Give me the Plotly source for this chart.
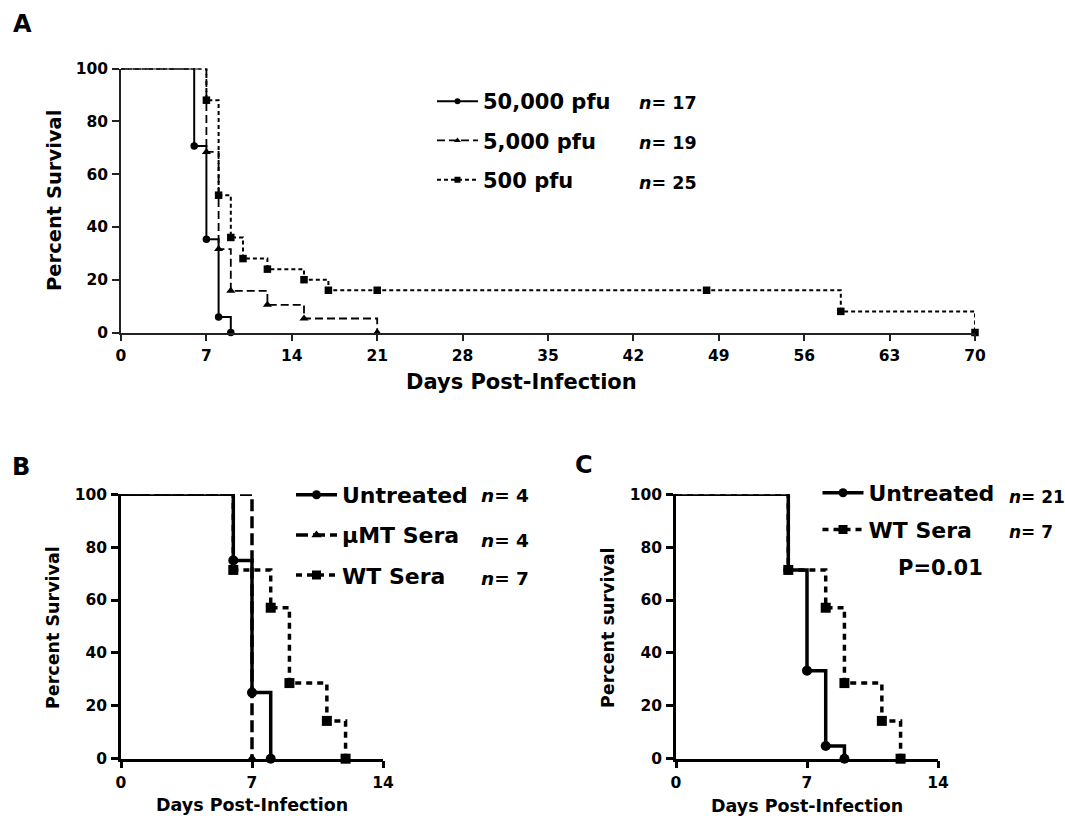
import plotly.graph_objects as go

W, H = 1065, 822
FONT = "DejaVu Sans"

# ---------------- Panel A data ----------------
a_days_50000 = [0, 6, 7, 8, 9]
a_surv_50000 = [100, 70.6, 35.3, 5.9, 0]
a_days_5000 = [0, 7, 8, 9, 12, 15, 21]
a_surv_5000 = [100, 68.4, 31.6, 15.8, 10.5, 5.3, 0]
a_days_500 = [0, 7, 8, 9, 10, 12, 15, 17, 21, 48, 59, 70]
a_surv_500 = [100, 88, 52, 36, 28, 24, 20, 16, 16, 16, 8, 0]
a_names = ["50,000 pfu", "5,000 pfu", "500 pfu"]
a_n = [17, 19, 25]
a_xticks = [0, 7, 14, 21, 28, 35, 42, 49, 56, 63, 70]

# ---------------- Panel B data ----------------
b_days_untreated = [0, 6, 7, 8]
b_surv_untreated = [100, 75, 25, 0]
b_days_mmt = [0, 7]
b_surv_mmt = [100, 0]
b_days_wt = [0, 6, 8, 9, 11, 12]
b_surv_wt = [100, 71.4, 57.1, 28.6, 14.3, 0]
b_names = ["Untreated", "μMT Sera", "WT Sera"]
b_n = [4, 4, 7]

# ---------------- Panel C data ----------------
c_days_untreated = [0, 6, 7, 8, 9]
c_surv_untreated = [100, 71.4, 33.3, 4.8, 0]
c_days_wt = [0, 6, 8, 9, 11, 12]
c_surv_wt = [100, 71.4, 57.1, 28.6, 14.3, 0]
c_names = ["Untreated", "WT Sera"]
c_n = [21, 7]
c_pvalue = "P=0.01"

bc_xticks = [0, 7, 14]
y_ticks = [0, 20, 40, 60, 80, 100]

fig = go.Figure()


def add_series(ax, days, surv, name, dash, width, symbol, msize, lsize, legend):
    xa, ya = ("x", "y") if ax == 1 else ("x%d" % ax, "y%d" % ax)
    line = dict(shape="hv", dash=dash, width=width, color="black")
    fig.add_trace(go.Scatter(x=days, y=surv, mode="lines", line=line,
                             xaxis=xa, yaxis=ya, showlegend=False,
                             cliponaxis=False, hoverinfo="skip"))
    fig.add_trace(go.Scatter(x=days[1:], y=surv[1:], mode="markers",
                             marker=dict(symbol=symbol, size=msize, color="black",
                                         line=dict(width=0)),
                             xaxis=xa, yaxis=ya, showlegend=False,
                             cliponaxis=False, hoverinfo="skip"))
    fig.add_trace(go.Scatter(x=[None], y=[None], mode="lines+markers", name=name,
                             line=dict(dash=dash, width=width, color="black"),
                             marker=dict(symbol=symbol, size=lsize, color="black",
                                         line=dict(width=0)),
                             xaxis=xa, yaxis=ya, legend=legend, legendgroup=name + legend,
                             showlegend=True, hoverinfo="skip"))


# Panel A
add_series(1, a_days_50000, a_surv_50000, a_names[0], "solid", 2, "circle", 7.5, 6, "legend")
add_series(1, a_days_5000, a_surv_5000, a_names[1], "8px,4px", 1.8, "triangle-up", 8, 6, "legend")
add_series(1, a_days_500, a_surv_500, a_names[2], "4px,3px", 2, "square", 7.5, 6, "legend")

# Panel B
add_series(2, b_days_untreated, b_surv_untreated, b_names[0], "solid", 3.5, "circle", 10, 9, "legend2")
add_series(2, b_days_mmt, b_surv_mmt, b_names[1], "12px,5px", 3.5, "triangle-up", 10, 9, "legend2")
add_series(2, b_days_wt, b_surv_wt, b_names[2], "6px,5px", 3.5, "square", 10, 9, "legend2")

# Panel C
add_series(3, c_days_untreated, c_surv_untreated, c_names[0], "solid", 3.5, "circle", 10, 9, "legend3")
add_series(3, c_days_wt, c_surv_wt, c_names[1], "6px,5px", 3.5, "square", 10, 9, "legend3")


def axis(lw, tl, domain, rng, tickvals, anchor, standoff):
    return dict(domain=domain, range=rng, tickvals=tickvals, anchor=anchor,
                showline=True, linecolor="black", linewidth=lw,
                ticks="outside", ticklen=tl, tickwidth=lw, tickcolor="black",
                showgrid=False, zeroline=False, fixedrange=True, automargin=False,
                ticklabelstandoff=standoff,
                tickfont=dict(family=FONT, size=15.5, color="black", weight="bold"))


xA = [121 / W, 975 / W]
yA = [1 - 332.5 / H, 1 - 68.5 / H]
xB = [121 / W, 383 / W]
yB = [1 - 758.7 / H, 1 - 494.3 / H]
xC = [676 / W, 938 / W]
yC = yB

fig.update_layout(
    xaxis=axis(1.5, 7, xA, [0, 70], a_xticks, "y", 1),
    yaxis=axis(1.5, 7, yA, [0, 100], y_ticks, "x", 1),
    xaxis2=axis(2.5, 7, xB, [0, 14], bc_xticks, "y2", 1),
    yaxis2=axis(2.5, 7, yB, [0, 100], y_ticks, "x2", 1),
    xaxis3=axis(2.5, 7, xC, [0, 14], bc_xticks, "y3", 1),
    yaxis3=axis(2.5, 7, yC, [0, 100], y_ticks, "x3", 1),
)
fig.update_xaxes(linecolor="#222", tickcolor="#222", selector=dict(anchor="y"))
fig.update_yaxes(linecolor="#222", tickcolor="#222", selector=dict(anchor="x"))


def legend(x, y, size, gap):
    return dict(x=x, y=y, xanchor="left", yanchor="top", xref="paper", yref="paper",
                font=dict(family=FONT, size=size, color="black", weight="bold"),
                bgcolor="rgba(0,0,0,0)", borderwidth=0, tracegroupgap=gap,
                traceorder="grouped", itemwidth=41, itemclick=False,
                itemdoubleclick=False)


fig.update_layout(
    legend=legend(432 / W, 1 - 81 / H, 21, 9),
    legend2=legend(291 / W, 1 - 474 / H, 22, 8.5),
    legend3=legend(817.5 / W, 1 - 472 / H, 22, 5),
)

ann = []


def text(x, y, s, size, angle=0, xanchor="center"):
    ann.append(dict(x=x / W, y=1 - y / H, xref="paper", yref="paper", text=s,
                    showarrow=False, textangle=angle, xanchor=xanchor, yanchor="middle",
                    font=dict(family=FONT, size=size, color="black", weight="bold")))


# panel letters
text(22, 24, "A", 24)
text(21, 467, "B", 24)
text(584, 465, "C", 24)
# axis titles
text(521, 382, "Days Post-Infection", 21)
text(55, 201, "Percent Survival", 19.5, -90)
text(252, 805, "Days Post-Infection", 17.5)
text(53, 628, "Percent Survival", 17.5, -90)
text(807, 806, "Days Post-Infection", 17.5)
text(608, 628, "Percent survival", 17.5, -90)
# n labels
for n, yy in zip(a_n, [103, 143, 183]):
    text(637, yy, "<i>n</i>= %d" % n, 17.5, xanchor="left")
for n, yy in zip(b_n, [495, 540, 578]):
    text(479, yy, "<i>n</i>= %d" % n, 18.5, xanchor="left")
for n, yy in zip(c_n, [497, 532]):
    text(1007, yy, "<i>n</i>= %d" % n, 17, xanchor="left")
text(940, 568, c_pvalue, 21)

fig.update_layout(
    annotations=ann,
    width=W, height=H, autosize=False,
    margin=dict(l=0, r=0, t=0, b=0, pad=0, autoexpand=False),
    paper_bgcolor="white", plot_bgcolor="white",
    font=dict(family=FONT, color="black"),
)

fig.write_html("out.html",
               config={"displayModeBar": False},
               post_script="document.body.style.margin='0px';"
                           "document.body.style.overflow='hidden';")
